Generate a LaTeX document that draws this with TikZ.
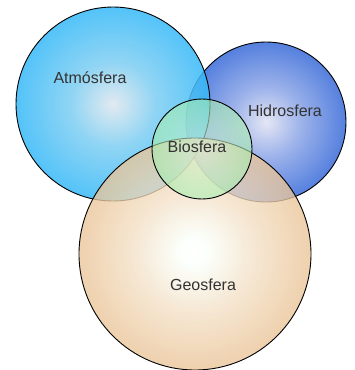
\documentclass[tikz,border=0pt]{standalone}
\usepackage{fontspec}
\setmainfont{Liberation Sans}
\usetikzlibrary{positioning}

\definecolor{atmin}{HTML}{DCE6EE}
\definecolor{atmmid}{HTML}{7CCDF2}
\definecolor{atmout}{HTML}{36B9F8}
\definecolor{hidin}{HTML}{E4E6F4}
\definecolor{hidmid}{HTML}{9CB2EA}
\definecolor{hidout}{HTML}{5580DE}
\definecolor{geoin}{HTML}{FFFFFF}
\definecolor{geomid}{HTML}{F3E0C6}
\definecolor{geoout}{HTML}{EAC497}
\definecolor{bioin}{HTML}{E2F8DC}
\definecolor{bioout}{HTML}{A6EEAE}
\definecolor{txt}{HTML}{333333}

\pgfdeclareradialshading{atmshade}{\pgfpointorigin}{color(0bp)=(atmin); color(11bp)=(atmmid); color(25bp)=(atmout); color(50bp)=(atmout)}
\pgfdeclareradialshading{hidshade}{\pgfpointorigin}{color(0bp)=(hidin); color(11bp)=(hidmid); color(25bp)=(hidout); color(50bp)=(hidout)}
\pgfdeclareradialshading{geoshade}{\pgfpoint{-0.3bp}{0.5bp}}{color(0bp)=(geoin); color(3bp)=(geoin!90!green!20); color(13bp)=(geomid); color(25bp)=(geoout); color(50bp)=(geoout)}
\pgfdeclareradialshading{bioshade}{\pgfpointorigin}{color(0bp)=(bioin); color(25bp)=(bioout); color(50bp)=(bioout)}

\begin{document}
\begin{tikzpicture}[
    x=1pt, y=-1pt,
    font=\fontsize{16}{19}\selectfont, text=txt,
    sphere/.style={draw=black, line width=0.9pt, circle, inner sep=0pt}]
  \useasboundingbox (0,0) rectangle (354,370);
  % spheres
  \node[sphere, shading=hidshade, minimum size=160pt] (hid) at (266,122) {};
  \node[sphere, shading=atmshade, fill opacity=0.85, minimum size=194pt] (atm) at (113,104) {};
  \node[sphere, shading=geoshade, fill opacity=0.78, minimum size=232pt] (geo) at (195,254) {};
  \node[sphere, shading=bioshade, fill opacity=0.6, minimum size=100pt] (bio) at (202,149) {};
  % labels
  \node (atmlbl) at (90,78) {Atmósfera};
  \node (hidlbl) at (285,111) {Hidrosfera};
  \node (biolbl) at (197,147) {Biosfera};
  \node (geolbl) at (203,285) {Geosfera};
\end{tikzpicture}
\end{document}
